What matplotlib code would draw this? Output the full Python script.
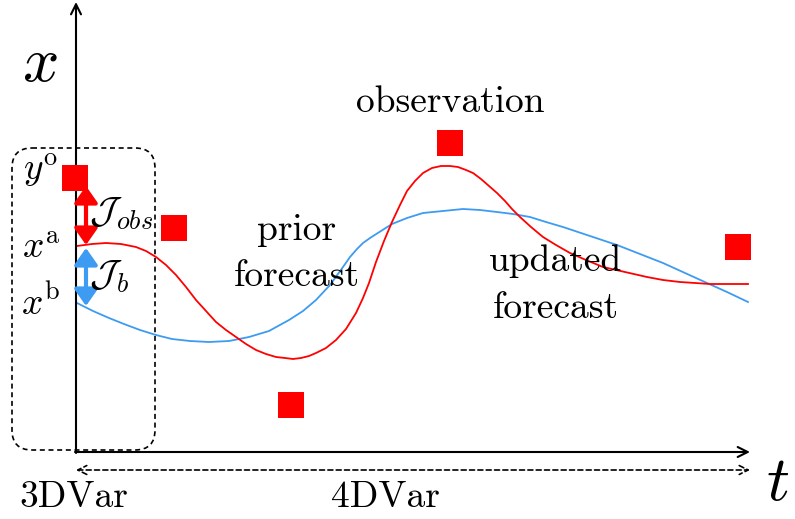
import numpy as np
import matplotlib.pyplot as plt
from matplotlib.patches import FancyBboxPatch

plt.rcParams['font.family'] = 'cmr10'
plt.rcParams['mathtext.fontset'] = 'cm'

# diagram coordinates (pixel-like, y grows downward)
obs_t = [75, 174, 291, 450, 738]
obs_x = [178, 228, 405, 143, 247]

updated_t = [77, 92, 106, 121, 136, 146, 156, 166, 176, 186, 196, 206, 216, 226, 236,
             246, 256, 266, 276, 285, 293, 301, 309, 316, 326, 336, 346, 356, 363, 369,
             376, 384, 392, 400, 407, 415, 423, 432, 441, 450, 458, 466, 473, 481, 489,
             497, 505, 512, 520, 531, 543, 556, 570, 586, 603, 625, 647, 663, 680, 695,
             710, 728, 748]
updated_x = [246, 244, 243, 244, 247, 251, 257, 265, 275, 287, 300, 311, 322, 330, 337,
             344, 350, 354, 357, 358, 359, 358, 356, 353, 348, 340, 329, 313, 298, 283,
             262, 241, 222, 205, 191, 181, 173, 168, 166, 166, 167, 170, 173, 179, 186,
             193, 201, 209, 217, 227, 237, 245, 253, 260, 267, 272, 277, 280, 282, 283,
             284, 284, 284]

prior_t = [77, 93, 109, 124, 140, 156, 172, 190, 209, 229, 249, 269, 289, 303, 316,
           330, 343, 350, 357, 363, 370, 381, 392, 407, 423, 443, 463, 480, 497, 513,
           530, 546, 563, 590, 617, 640, 663, 685, 707, 727, 748]
prior_x = [303, 311, 318, 324, 330, 335, 339, 341, 342, 341, 337, 331, 320, 311, 300,
           285, 267, 257, 249, 243, 238, 231, 224, 218, 213, 211, 209, 210, 212, 214,
           217, 222, 227, 236, 245, 254, 263, 273, 283, 292, 302]

red = '#ff0000'
blue = '#3d9bf2'

fig = plt.figure(figsize=(7.95, 5.19), dpi=100)
ax = fig.add_axes([0, 0, 1, 1])
ax.set_xlim(0, 795)
ax.set_ylim(519, 0)
ax.axis('off')

# axes
ax.annotate('', xy=(76, 2), xytext=(76, 453),
            arrowprops=dict(arrowstyle='->', color='black', lw=1.5, mutation_scale=18,
                            shrinkA=0, shrinkB=0))
ax.annotate('', xy=(750, 452), xytext=(75, 452),
            arrowprops=dict(arrowstyle='->', color='black', lw=1.5, mutation_scale=18,
                            shrinkA=0, shrinkB=0))
ax.annotate('', xy=(750, 470), xytext=(76, 470),
            arrowprops=dict(arrowstyle='<->', color='black', lw=1.2, ls=(0, (3, 2)),
                            mutation_scale=16, shrinkA=0, shrinkB=0))

# 3DVar window
box = FancyBboxPatch((12, 148), 143, 302, boxstyle='round,pad=0,rounding_size=20',
                     fill=False, ls=(0, (3, 2.2)), lw=1.2, ec='black')
ax.add_patch(box)

# curves
ax.plot(prior_t, prior_x, color=blue, lw=1.3)
ax.plot(updated_t, updated_x, color=red, lw=1.3)
ax.scatter(obs_t, obs_x, marker='s', s=330, color=red, zorder=5, linewidths=0)

# cost arrows
ax.annotate('', xy=(86, 186), xytext=(86, 245),
            arrowprops=dict(arrowstyle='<|-|>,head_length=0.5,head_width=0.35',
                            color=red, lw=3, mutation_scale=20, shrinkA=0, shrinkB=0))
ax.annotate('', xy=(86, 248), xytext=(86, 306),
            arrowprops=dict(arrowstyle='<|-|>,head_length=0.5,head_width=0.35',
                            color=blue, lw=3, mutation_scale=20, shrinkA=0, shrinkB=0))

fs = 27
ax.text(40, 65, r'$x$', fontsize=46, ha='center', va='center')
ax.text(778, 484, r'$t$', fontsize=46, ha='center', va='center')
ax.text(41, 170, r'$y^{\mathrm{o}}$', fontsize=fs, ha='center', va='center')
ax.text(41, 248, r'$x^{\mathrm{a}}$', fontsize=fs, ha='center', va='center')
ax.text(41, 303, r'$x^{\mathrm{b}}$', fontsize=fs, ha='center', va='center')
ax.text(89, 214, r'$\mathcal{J}_{obs}$', fontsize=fs, ha='left', va='center')
ax.text(89, 277, r'$\mathcal{J}_b$', fontsize=fs, ha='left', va='center')

ax.text(450, 102, 'observation', fontsize=fs, ha='center', va='center')
ax.text(297, 230, 'prior', fontsize=fs, ha='center', va='center')
ax.text(297, 276, 'forecast', fontsize=fs, ha='center', va='center')
ax.text(556, 261, 'updated', fontsize=fs, ha='center', va='center')
ax.text(556, 308, 'forecast', fontsize=fs, ha='center', va='center')
ax.text(74, 497, '3DVar', fontsize=fs, ha='center', va='center')
ax.text(385, 497, '4DVar', fontsize=fs, ha='center', va='center')

fig.savefig('out.png', dpi=100)
